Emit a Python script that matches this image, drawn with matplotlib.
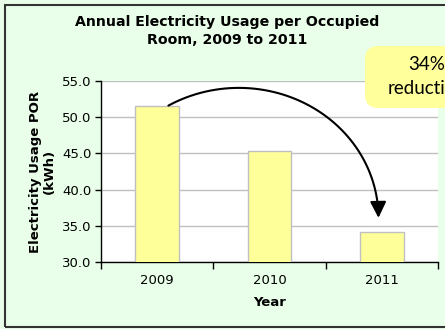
import numpy as np
import matplotlib
matplotlib.use("Agg")
import matplotlib.pyplot as plt
from matplotlib.path import Path
from matplotlib.patches import FancyArrowPatch, FancyBboxPatch, Rectangle

# chart data
years = ["2009", "2010", "2011"]
usage = [51.6, 45.3, 34.2]
y_ticks = [30.0, 35.0, 40.0, 45.0, 50.0, 55.0]

W, H = 445, 329
bg = "#e9ffe9"

fig = plt.figure(figsize=(W / 100, H / 100), dpi=100, facecolor=bg)

# outer frame (right edge runs off the image)
fig.patches.append(Rectangle((5 / W, 2 / H), 460 / W, 322 / H, transform=fig.transFigure,
                             fill=False, edgecolor="#333333", linewidth=1.5))

ax = fig.add_axes([101 / W, 1 - 262 / H, 337 / W, 181 / H])
ax.set_facecolor("white")

x = np.arange(len(years))
ax.bar(x, usage, width=0.39, color="#ffff99", edgecolor="#c0c0c0", linewidth=1, zorder=3)

ax.set_xlim(-0.5, len(years) - 0.5)
ax.set_ylim(y_ticks[0], y_ticks[-1])
ax.set_yticks(y_ticks)
ax.set_yticklabels(["%.1f" % t for t in y_ticks], fontsize=9.5)
ax.set_xticks(x)
ax.set_xticklabels(years, fontsize=9.5)
ax.set_xticks(np.arange(len(years) + 1) - 0.5, minor=True)
ax.tick_params(axis="x", which="major", length=0, pad=9)
ax.tick_params(axis="x", which="minor", length=5, width=1, direction="out")
ax.tick_params(axis="y", length=4, width=1, direction="out", pad=3)
ax.yaxis.grid(True, color="#c0c0c0", linewidth=1, zorder=0)
ax.set_axisbelow(True)
for s in ["top", "right"]:
    ax.spines[s].set_visible(False)
for s in ["left", "bottom"]:
    ax.spines[s].set_color("black")
    ax.spines[s].set_linewidth(1)

ax.set_xlabel("Year", fontsize=9.5, fontweight="bold", labelpad=6)
ax.set_ylabel("Electricity Usage POR\n(kWh)", fontsize=9.5, fontweight="bold",
              labelpad=4, linespacing=1.1)

fig.text(227 / W, 1 - 31 / H, "Annual Electricity Usage per Occupied\nRoom, 2009 to 2011",
         ha="center", va="center", fontsize=10.2, fontweight="bold", linespacing=1.35)

# curved arrow from 2009 bar to 2011 bar (elliptical arc)
x0, y0 = 0.1, usage[0]
x1, y1 = 1.97, usage[2] + 1.9
yp = 54.05
b = yp - y1
s = np.sqrt(1 - ((y0 - y1) / b) ** 2)
cx = (x0 + s * x1) / (1 + s)
a = x1 - cx
th0 = np.arccos((x0 - cx) / a)
th = np.linspace(th0, 0, 60)
pts = np.column_stack([cx + a * np.cos(th), y1 + b * np.sin(th)])
arrow = FancyArrowPatch(path=Path(pts), arrowstyle="-|>,head_length=0.7,head_width=0.35",
                        mutation_scale=14, color="black", linewidth=1.5, zorder=5,
                        clip_on=False)
ax.add_patch(arrow)

# callout box (cut off at the right edge)
fig.patches.append(FancyBboxPatch((365 / W, 1 - 108 / H), 122 / W, 62 / H,
                                  boxstyle="round,pad=0,rounding_size=0.03",
                                  transform=fig.transFigure, facecolor="#ffff9c",
                                  edgecolor="none", mutation_aspect=W / H))
fig.text(427 / W, 1 - 77 / H, "34%\nreduction", ha="center", va="center",
         fontsize=13.5, family="Lato", linespacing=1.5)

fig.savefig("out.png", dpi=100, facecolor=bg)
